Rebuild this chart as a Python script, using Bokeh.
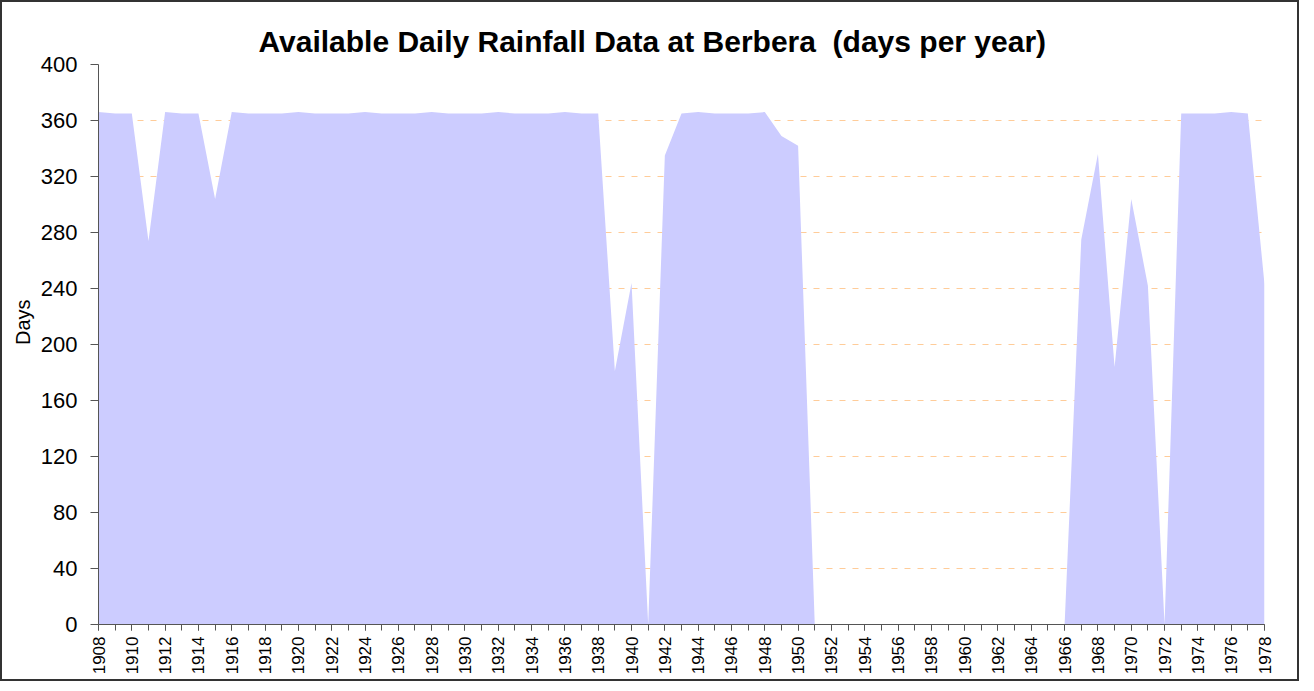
import math
from bokeh.plotting import figure
from bokeh.models import SingleIntervalTicker, FixedTicker, Range1d, ColumnDataSource
from bokeh.embed import file_html
from bokeh.resources import INLINE

years = list(range(1908, 1979))
days = [366, 365, 365, 274, 366, 365, 365, 304, 366, 365,   # 1908-1917
        365, 365, 366, 365, 365, 365, 366, 365, 365, 365,   # 1918-1927
        366, 365, 365, 365, 366, 365, 365, 365, 366, 365,   # 1928-1937
        365, 181, 244, 0, 335, 365, 366, 365, 365, 365,     # 1938-1947
        366, 349, 342, 0, 0, 0, 0, 0, 0, 0,                 # 1948-1957
        0, 0, 0, 0, 0, 0, 0, 0, 0, 275,                     # 1958-1967
        336, 184, 304, 242, 0, 365, 365, 365, 366, 365,     # 1968-1977
        243]                                                # 1978
y_ticks = [0, 40, 80, 120, 160, 200, 240, 280, 320, 360, 400]
title_text = "Available Daily Rainfall Data at Berbera \u00a0(days per year)"
y_label = "\u00a0" * 8 + "Days"

src = ColumnDataSource(dict(year=years, days=days, zero=[0] * len(years)))

p = figure(frame_width=1166, frame_height=560, output_backend="svg", toolbar_location=None,
           x_range=Range1d(1908, 1978), y_range=Range1d(0, 400),
           min_border_left=96, min_border_right=33, min_border_top=62, min_border_bottom=55,
           title=title_text)
p.styles = {"border": "2px solid #333"}
p.outline_line_color = None
p.background_fill_color = "white"
p.border_fill_color = "white"

p.title.text_font = "Liberation Sans"
p.title.text_font_size = "30px"
p.title.text_font_style = "bold"
p.title.align = "left"
p.title.offset = 160
p.title.standoff = 14
p.title.text_color = "black"

p.varea(x="year", y1="zero", y2="days", source=src, fill_color="#CCCCFF", fill_alpha=1.0)

# grid
p.xgrid.visible = False
p.ygrid.ticker = FixedTicker(ticks=y_ticks[1:])
p.ygrid.grid_line_color = "#FFCC99"
p.ygrid.grid_line_dash = "6 7"
p.ygrid.grid_line_width = 1

# y axis
p.yaxis.ticker = FixedTicker(ticks=y_ticks)
p.yaxis.axis_label = y_label
p.yaxis.axis_label_text_font = "Liberation Sans"
p.yaxis.axis_label_text_font_size = "20px"
p.yaxis.axis_label_text_font_style = "normal"
p.yaxis.axis_label_text_color = "black"
p.yaxis.axis_label_standoff = 4
p.yaxis.major_label_text_font = "Liberation Sans"
p.yaxis.major_label_text_font_size = "22px"
p.yaxis.major_label_text_color = "black"
p.yaxis.major_tick_out = 8
p.yaxis.major_tick_in = 0
p.yaxis.minor_tick_line_color = None
p.yaxis.major_label_standoff = 13
p.yaxis.axis_line_color = "#555555"
p.yaxis.major_tick_line_color = "#555555"

# x axis
p.xaxis.ticker = SingleIntervalTicker(interval=2, num_minor_ticks=2)
p.xaxis.major_label_orientation = math.pi / 2
p.xaxis.major_label_text_font = "Liberation Sans"
p.xaxis.major_label_text_font_size = "17px"
p.xaxis.major_label_text_color = "black"
p.xaxis.major_tick_out = 6
p.xaxis.major_tick_in = 0
p.xaxis.minor_tick_out = 6
p.xaxis.minor_tick_in = 0
p.xaxis.major_label_standoff = 6
p.xaxis.axis_line_color = "#555555"
p.xaxis.major_tick_line_color = "#555555"
p.xaxis.minor_tick_line_color = "#555555"

open("out.html", "w").write(file_html(p, INLINE))
